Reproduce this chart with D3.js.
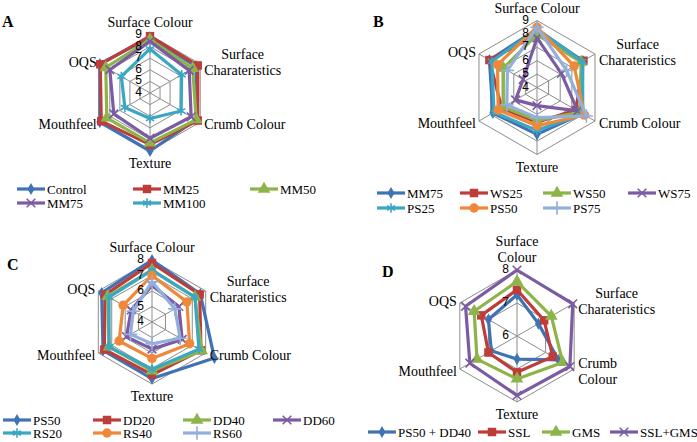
<!DOCTYPE html>
<html>
<head>
<meta charset="utf-8">
<script src="https://cdn.jsdelivr.net/npm/d3@7"></script>
<style>
body { margin: 0; background: #fff; }
svg { display: block; }
</style>
</head>
<body>
<svg id="chart" width="697" height="442"></svg>
<script>
// attribute axes (same order in every panel, clockwise from the top)
var axesLong = ["Surface Colour", "Surface\nCharateristics", "Crumb Colour", "Texture", "Mouthfeel", "OQS"];
var axesWrapped = ["Surface\nColour", "Surface\nCharateristics", "Crumb\nColour", "Texture", "Mouthfeel", "OQS"];

// panel A
var namesA = ["Control", "MM25", "MM50", "MM75", "MM100"];
var valuesA = [
    [8.8, 8.6, 8.6, 9.0, 9.0, 9.0],
    [8.9, 8.75, 8.75, 8.45, 8.85, 8.95],
    [8.6, 8.25, 8.6, 8.3, 8.3, 8.4],
    [8.45, 7.9, 8.1, 7.9, 7.6, 8.0],
    [7.8, 7.15, 7.1, 6.2, 6.5, 6.85]
];
var ticksA = [4, 5, 6, 7, 8, 9];

// panel B
var namesB = ["MM75", "WS25", "WS50", "WS75", "PS25", "PS50", "PS75"];
var valuesB = [
    [8.35, 7.95, 7.9, 7.5, 7.8, 8.1],
    [7.95, 8.0, 7.35, 6.6, 7.05, 8.1],
    [7.95, 7.8, 7.7, 6.45, 6.9, 6.9],
    [7.7, 6.1, 7.5, 5.35, 5.85, 5.2],
    [8.35, 7.9, 7.95, 7.2, 7.7, 7.9],
    [8.5, 7.2, 8.1, 6.85, 7.35, 7.4],
    [8.5, 6.55, 8.25, 6.25, 6.6, 6.55]
];
var ticksB = [4, 5, 6, 7, 8, 9];

// panel C
var namesC = ["PS50", "DD20", "DD40", "DD60", "RS20", "RS40", "RS60"];
var valuesC = [
    [8.0, 7.6, 8.65, 7.65, 7.65, 7.75],
    [7.8, 7.55, 7.65, 7.4, 7.55, 7.5],
    [7.35, 7.2, 7.7, 7.15, 7.2, 7.3],
    [6.35, 6.0, 6.25, 5.75, 5.9, 5.55],
    [7.35, 7.2, 7.5, 7.05, 7.2, 7.2],
    [7.0, 6.6, 6.8, 6.35, 6.45, 6.15],
    [6.6, 5.7, 6.1, 5.4, 5.6, 5.4]
];
var ticksC = [4, 5, 6, 7, 8];

// panel D
var namesD = ["PS50 + DD40", "SSL", "GMS", "SSL+GMS"];
var valuesD = [
    [7.25, 6.75, 7.45, 6.7, 6.9, 7.0],
    [7.4, 6.95, 7.25, 7.1, 7.0, 7.25],
    [7.65, 7.2, 7.6, 7.3, 7.4, 7.5],
    [8.0, 7.95, 7.85, 7.8, 7.65, 7.8]
];
var ticksD = [6, 7, 8];

// series styling by position inside a panel (Excel defaults)
var colors = ["#3f73b6", "#be3d3a", "#8db449", "#7b5ca3", "#3aa7c3", "#f0883a", "#93afdb"];
var shapes = [d3.symbolDiamond, d3.symbolSquare, d3.symbolTriangle, d3.symbolTimes, d3.symbolAsterisk, d3.symbolCircle, d3.symbolPlus];
var shapeSizes = [42, 72, 70, 50, 60, 70, 60];
var strokeShapes = [false, false, false, true, true, false, true];

var serif = "'Liberation Serif', 'Times New Roman', 'DejaVu Serif', serif";
var sans = "'Liberation Sans', Arial, sans-serif";

var panels = [
    { letter: "A", lx: 2, ly: 27, cx: 150, cy: 93, radius: 58, ticks: ticksA, axes: axesLong,
      names: namesA, values: valuesA, legendX: [17, 133, 250], legendY: [189, 203] },
    { letter: "B", lx: 373, ly: 27, cx: 537, cy: 87.5, radius: 67, ticks: ticksB, axes: axesLong,
      names: namesB, values: valuesB, legendX: [377, 460, 543, 628], legendY: [193, 208] },
    { letter: "C", lx: 7, ly: 270, cx: 152, cy: 322, radius: 62, ticks: ticksC, axes: axesLong,
      names: namesC, values: valuesC, legendX: [3, 93, 183, 273], legendY: [420, 433] },
    { letter: "D", lx: 382, ly: 277, cx: 517, cy: 336, radius: 66, ticks: ticksD, axes: axesWrapped,
      names: namesD, values: valuesD, legendX: [368, 478, 542, 610], legendY: [432] }
];

var svg = d3.select("#chart");
svg.append("rect").attr("width", 697).attr("height", 442).attr("fill", "#fff");

function drawMarker(g, i, x, y) {
    var sym = d3.symbol().type(shapes[i]).size(shapeSizes[i]);
    var m = g.append("path")
        .attr("d", sym())
        .attr("transform", "translate(" + x + "," + y + ")");
    if (strokeShapes[i]) {
        m.attr("fill", "none").attr("stroke", colors[i]).attr("stroke-width", 1.6);
    } else {
        m.attr("fill", colors[i]);
    }
}

function drawPanel(p) {
    var g = svg.append("g");
    var n = p.axes.length;
    var lo = p.ticks[0], hi = p.ticks[p.ticks.length - 1];
    var r = d3.scaleLinear().domain([lo, hi]).range([0, p.radius]);
    var angle = d3.scaleLinear().domain([0, n]).range([0, 2 * Math.PI]);

    function px(i, v) { return p.cx + r(v) * Math.sin(angle(i)); }
    function py(i, v) { return p.cy - r(v) * Math.cos(angle(i)); }

    // grid rings
    var ring = d3.lineRadial()
        .angle(function(d, i) { return angle(i); })
        .curve(d3.curveLinearClosed);
    p.ticks.slice(1).forEach(function(t) {
        g.append("path")
            .attr("d", ring.radius(r(t))(d3.range(n)))
            .attr("transform", "translate(" + p.cx + "," + p.cy + ")")
            .attr("fill", "none")
            .attr("stroke", "#8c8c8c")
            .attr("stroke-width", 1);
    });

    // spokes
    g.selectAll("line.spoke")
        .data(d3.range(n))
        .enter().append("line")
        .attr("class", "spoke")
        .attr("x1", p.cx).attr("y1", p.cy)
        .attr("x2", function(i) { return px(i, hi); })
        .attr("y2", function(i) { return py(i, hi); })
        .attr("stroke", "#8c8c8c")
        .attr("stroke-width", 1);

    // series
    var line = d3.line()
        .x(function(d, i) { return px(i, d); })
        .y(function(d, i) { return py(i, d); })
        .curve(d3.curveLinearClosed);
    p.values.forEach(function(vals, s) {
        g.append("path")
            .attr("d", line(vals))
            .attr("fill", "none")
            .attr("stroke", colors[s])
            .attr("stroke-width", 3.2)
            .attr("stroke-linejoin", "round");
        vals.forEach(function(v, i) { drawMarker(g, s, px(i, v), py(i, v)); });
    });

    // tick labels
    p.ticks.forEach(function(t) {
        g.append("text")
            .attr("font-family", sans)
            .attr("font-size", 12)
            .attr("x", p.cx - 8)
            .attr("y", p.cy - r(t) - 1)
            .attr("text-anchor", "end")
            .attr("dominant-baseline", "central")
            .text(t);
    });

    // axis labels
    var lh = 16.5;
    p.axes.forEach(function(label, i) {
        var lines = label.split("\n");
        var vx = px(i, hi), vy = py(i, hi);
        var t = g.append("text")
            .attr("font-family", serif)
            .attr("font-size", 14)
            .attr("dominant-baseline", "central");
        lines.forEach(function(l) { t.append("tspan").text(l); });
        var w = d3.max(t.selectAll("tspan").nodes(), function(nd) { return nd.getComputedTextLength(); });
        var mid, top;
        if (i === 0) { mid = vx; top = vy - 13 - (lines.length - 1) * lh; }
        else if (i === 3) { mid = vx; top = vy + 12; }
        else if (i === 1) { mid = vx + 4 + w / 2; top = vy - 2 - (lines.length - 1) * lh / 2; }
        else if (i === 2) { mid = vx + 4 + w / 2; top = vy + 2 - (lines.length - 1) * lh / 2; }
        else if (i === 4) { mid = vx - 3 - w / 2; top = vy + 2 - (lines.length - 1) * lh / 2; }
        else { mid = vx - 3 - w / 2; top = vy - 2 - (lines.length - 1) * lh / 2; }
        t.attr("text-anchor", "middle");
        t.selectAll("tspan")
            .attr("x", mid)
            .attr("y", function(d, k) { return top + k * lh; });
    });

    // panel letter
    svg.append("text")
        .attr("font-family", serif)
        .attr("font-size", 16)
        .attr("font-weight", "bold")
        .attr("x", p.lx).attr("y", p.ly)
        .text(p.letter);

    // legend
    var perRow = p.legendX.length;
    p.names.forEach(function(name, s) {
        var x = p.legendX[s % perRow];
        var y = p.legendY[Math.floor(s / perRow)];
        svg.append("line")
            .attr("x1", x).attr("x2", x + 28)
            .attr("y1", y).attr("y2", y)
            .attr("stroke", colors[s])
            .attr("stroke-width", 3.2);
        drawMarker(svg, s, x + 14, y);
        svg.append("text")
            .attr("font-family", serif)
            .attr("font-size", 13)
            .attr("x", x + 30).attr("y", y)
            .attr("dominant-baseline", "central")
            .text(name);
    });
}

panels.forEach(drawPanel);
</script>
</body>
</html>
